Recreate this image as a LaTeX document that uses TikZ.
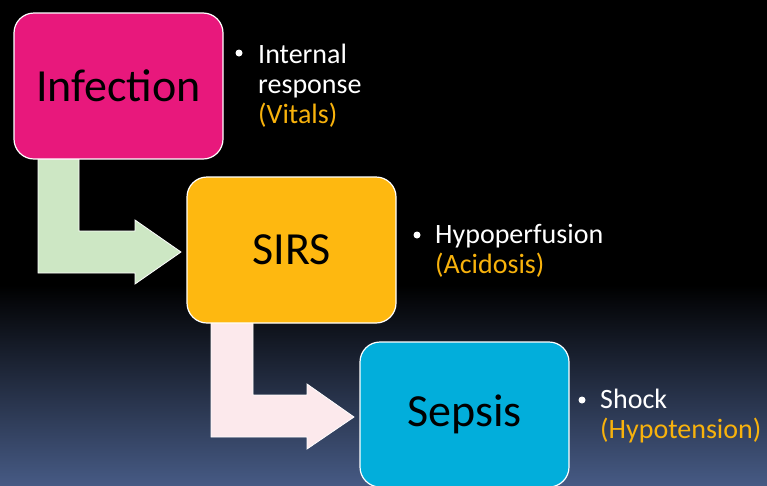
\documentclass[tikz,border=0pt]{standalone}
\usepackage{fontspec}
\setmainfont{Carlito}
\usetikzlibrary{calc}
\pgfdeclarelayer{backdrop}
\pgfdeclarelayer{arrows}
\pgfsetlayers{backdrop,arrows,main}
\definecolor{bgbot}{RGB}{70,90,132}
\definecolor{magbox}{RGB}{232,24,124}
\definecolor{orabox}{RGB}{254,184,16}
\definecolor{bluebox}{RGB}{2,174,219}
\definecolor{greenarr}{RGB}{205,231,196}
\definecolor{pinkarr}{RGB}{252,233,236}
\definecolor{oratext}{RGB}{248,178,12}
\tikzset{
  stagebox/.style={draw=white, line width=1.2pt, rounded corners=20pt, inner sep=0pt, outer sep=0pt,
    minimum width=209pt, minimum height=146pt, font=\fontsize{46}{55}\selectfont, text=black},
  bentarrow/.style={draw=white, line width=0.8pt, line join=miter},
  bullettext/.style={anchor=base west, align=left, inner sep=0pt, text=white,
    font=\fontsize{28}{30}\selectfont},
  bulletdot/.style={circle, fill=white, inner sep=0pt, minimum size=7pt}
}
\begin{document}
\begin{tikzpicture}[x=1pt,y=-1pt]
\useasboundingbox (0,0) rectangle (767,485);
\begin{pgfonlayer}{backdrop}
\fill[black] (0,0) rectangle (767,485);
\shade[top color=black, bottom color=bgbot] (0,285) rectangle (767,485);
\end{pgfonlayer}

% boxes
\node[stagebox, fill=magbox] (inf) at (118.5,86) {Infection};
\node[stagebox, fill=orabox] (sirs) at (291.5,250) {SIRS};
\node[stagebox, fill=bluebox, minimum height=145pt] (sep) at (464.5,414.5) {Sepsis};

% bent arrows (behind the boxes)
\begin{pgfonlayer}{arrows}
\path[bentarrow, fill=greenarr]
  ($(inf.south west)+(24,0)$) -- ++(41,0) -- ++(0,72) -- ++(56,0) -- ++(0,-11)
  -- ($(sirs.west)+(-6,2)$) -- ++(-46,32) -- ++(0,-11) -- ++(-97,0) -- cycle;
\path[bentarrow, fill=pinkarr]
  ($(sirs.south west)+(24,0)$) -- ++(42,0) -- ++(0,72) -- ++(54,0) -- ++(0,-11)
  -- ($(sep.west)+(-6,2.5)$) -- ++(-47,32) -- ++(0,-12) -- ++(-96,0) -- cycle;
\end{pgfonlayer}

% bullets
\node[bulletdot] (d1) at (239,53) {};
\node[bullettext] (t1) at (258,123) {Internal\\response\\\textcolor{oratext}{(Vitals)}};
\node[bulletdot] (d2) at (417,235) {};
\node[bullettext] (t2) at (435,273) {Hypoperfusion\\\textcolor{oratext}{(Acidosis)}};
\node[bulletdot] (d3) at (582,400) {};
\node[bullettext] (t3) at (600,438) {Shock\\\textcolor{oratext}{(Hypotension)}};
\end{tikzpicture}
\end{document}
